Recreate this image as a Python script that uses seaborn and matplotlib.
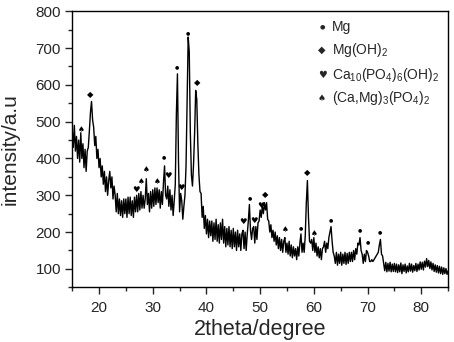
"""
XRD pattern of the coated Mg sample with phase markers.
"""
import matplotlib
matplotlib.use("Agg")
import matplotlib.pyplot as plt
import numpy as np
import pandas as pd
import seaborn as sns

# scan grid: 15 -> 85 deg, 0.2 deg step
two_theta = np.round(np.arange(15.0, 85.0001, 0.2), 1)

# intensity, one row per 2 degrees
intensity = [
    480, 430, 490, 420, 460, 400, 450, 390, 470, 400,   # 15
    440, 375, 425, 365, 420, 430, 475, 525, 555, 505,   # 17
    485, 435, 460, 400, 425, 375, 400, 350, 380, 330,   # 19
    365, 310, 350, 300, 340, 365, 320, 350, 290, 325,   # 21
    300, 255, 305, 250, 290, 245, 285, 240, 290, 250,   # 23
    290, 240, 295, 250, 295, 245, 285, 240, 295, 255,   # 25
    300, 255, 305, 260, 310, 265, 300, 265, 290, 345,   # 27
    275, 305, 255, 310, 265, 315, 270, 320, 275, 320,   # 29
    280, 315, 265, 310, 275, 335, 380, 300, 290, 325,   # 31
    270, 315, 260, 300, 245, 285, 330, 520, 630, 390,   # 33
    255, 305, 285, 235, 270, 300, 380, 560, 730, 690,   # 35
    470, 355, 325, 385, 470, 585, 560, 440, 355, 310,   # 37
    305, 240, 270, 210, 245, 195, 235, 185, 230, 190,   # 39
    230, 175, 225, 180, 235, 175, 220, 170, 225, 180,   # 41
    235, 170, 215, 160, 210, 165, 215, 160, 205, 155,   # 43
    210, 160, 200, 150, 205, 160, 195, 150, 195, 205,   # 45
    155, 200, 150, 195, 230, 275, 205, 180, 210, 215,   # 47
    170, 215, 180, 225, 230, 260, 240, 270, 250, 280,   # 49
    260, 280, 235, 230, 200, 220, 185, 205, 175, 200,   # 51
    165, 190, 155, 185, 150, 180, 145, 175, 185, 145,   # 53
    170, 140, 175, 135, 165, 130, 160, 135, 155, 125,   # 55
    160, 135, 170, 195, 145, 170, 145, 190, 280, 340,   # 57
    240, 175, 170, 180, 150, 185, 145, 170, 135, 160,   # 59
    130, 155, 125, 155, 160, 175, 145, 170, 155, 185,   # 61
    200, 215, 175, 145, 135, 115, 145, 110, 140, 115,   # 63
    145, 110, 140, 115, 145, 112, 142, 115, 145, 120,   # 65
    145, 120, 150, 125, 155, 140, 170, 165, 185, 150,   # 67
    140, 115, 140, 120, 150, 145, 135, 120, 120, 125,   # 69
    120, 125, 130, 135, 140, 145, 165, 180, 140, 135,   # 71
    115, 95, 118, 92, 115, 94, 118, 92, 113, 93,        # 73
    115, 92, 113, 90, 111, 92, 116, 87, 111, 93,        # 75
    113, 89, 108, 92, 115, 94, 113, 91, 109, 95,        # 77
    115, 93, 113, 97, 119, 99, 118, 97, 121, 105,       # 79
    128, 106, 123, 101, 119, 97, 115, 93, 111, 91,      # 81
    109, 89, 107, 87, 105, 85, 103, 87, 101, 85,        # 83
    95,                                                 # 85
]

# phase markers above the reflections
PHASE_SYM = {"Mg": ("\u25cf", 3.5), "Mg(OH)2": ("\u25c6", 6),
             "HA": ("\u2665", 6), "CMP": ("\u2660", 5.5)}
mark_x = [16.6, 18.4, 26.8, 27.9, 28.7, 30.9, 32.1, 32.9, 34.5, 35.3, 36.6,
          38.2, 46.8, 48.0, 48.8, 50.2, 51.0, 54.6, 57.6, 58.8, 60.0, 63.2,
          68.5, 70.0, 72.3]
mark_y = [480, 574, 316, 337, 369, 337, 404, 354, 649, 322, 743,
          607, 229, 294, 231, 272, 301, 206, 213, 363, 197, 234,
          206, 173, 200]
mark_phase = ["CMP", "Mg(OH)2", "HA", "CMP", "CMP", "CMP", "Mg", "HA", "Mg", "HA", "Mg",
              "Mg(OH)2", "HA", "Mg", "HA", "HA", "Mg(OH)2", "CMP", "Mg", "Mg(OH)2", "CMP", "Mg",
              "Mg", "Mg", "Mg"]

legend_phase = ["Mg", "Mg(OH)2", "HA", "CMP"]
legend_text = ["Mg", "Mg(OH)$_2$", "Ca$_{10}$(PO$_4$)$_6$(OH)$_2$",
               "(Ca,Mg)$_3$(PO$_4$)$_2$"]

sns.set_theme(style="ticks")
plt.rcParams["font.family"] = ["Liberation Sans", "DejaVu Sans"]
plt.rcParams["mathtext.fontset"] = "custom"
plt.rcParams["mathtext.rm"] = "Liberation Sans"
plt.rcParams["mathtext.it"] = "Liberation Sans"

df = pd.DataFrame({"two_theta": two_theta, "intensity": intensity})

fig = plt.figure(figsize=(4.54, 3.42), dpi=100)
ax = fig.add_axes([0.159, 0.16, 0.828, 0.807])

sns.lineplot(data=df, x="two_theta", y="intensity", ax=ax, color="black",
             linewidth=1.0, estimator=None, sort=False)

for x, y, ph in zip(mark_x, mark_y, mark_phase):
    sym, size = PHASE_SYM[ph]
    ax.text(x, y, sym, ha="center", va="center", fontsize=size,
            color="black", family=["DejaVu Sans"])

leg_y = [0.942, 0.859, 0.768, 0.685]
for yy, ph, label in zip(leg_y, legend_phase, legend_text):
    sym, size = PHASE_SYM[ph]
    ax.text(0.665, yy, sym, transform=ax.transAxes, ha="center",
            va="center", fontsize=size + 1, family=["DejaVu Sans"])
    ax.text(0.69, yy, label, transform=ax.transAxes, ha="left", va="center",
            fontsize=10)

ax.set_xlim(15, 85)
ax.set_ylim(50, 800)
ax.set_xticks(range(20, 81, 10))
ax.set_xticks(range(15, 86, 5), minor=True)
ax.set_yticks(range(100, 801, 100))
ax.set_yticks(range(50, 801, 50), minor=True)
ax.tick_params(which="major", direction="out", length=5, width=1,
               labelsize=11)
ax.tick_params(axis="x", which="major", pad=5)
ax.tick_params(axis="y", which="major", pad=3)
ax.tick_params(which="minor", direction="out", length=3, width=1)
ax.tick_params(top=False, right=False, which="both")
for s in ax.spines.values():
    s.set_visible(True)
    s.set_linewidth(1.0)
    s.set_color("black")

ax.set_xlabel("2theta/degree", fontsize=15.5)
ax.set_ylabel("intensity/a.u", fontsize=15)
ax.xaxis.set_label_coords(0.5, -0.115)
ax.yaxis.set_label_coords(-0.14, 0.5)

fig.savefig("out.png", dpi=100)
plt.close(fig)
